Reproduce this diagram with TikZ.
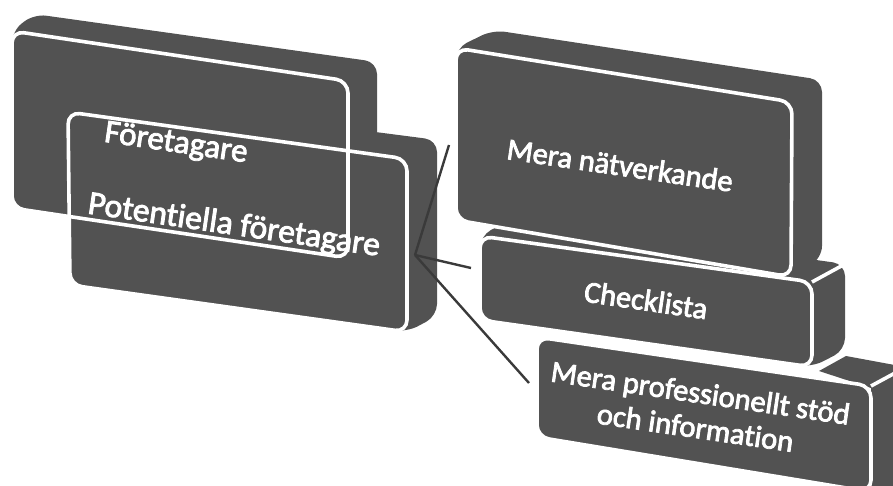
\documentclass[tikz,border=0pt]{standalone}
\usepackage{fontspec}
\setmainfont{Carlito}[Ligatures=NoCommon, FakeBold=2.6]
\definecolor{boxgray}{RGB}{82,82,82}
\definecolor{linegray}{RGB}{58,58,58}
\begin{document}
\begin{tikzpicture}[x=1pt,y=-1pt,
  face/.style={fill=boxgray, rounded corners=12pt},
  rim/.style={draw=white, line width=3.6pt, rounded corners=12pt},
  seam/.style={draw=white, line width=3.6pt},
  link/.style={draw=linegray, line width=2.4pt},
  lbl/.style={text=white, inner sep=0pt, rotate=-8.3, align=center}]
\useasboundingbox (0,0) rectangle (893,485);
% ---------- corner coordinates ----------
% box A (Företagare)
\coordinate (A1) at (12,31);  \coordinate (A2) at (348,81);
\coordinate (A3) at (348,258); \coordinate (A4) at (12,208);
\coordinate (Ab1) at (34,14); \coordinate (Ab2) at (377,62); \coordinate (Ab3) at (377,240);
% box B (Potentiella företagare)
\coordinate (B1) at (68,112); \coordinate (B2) at (407,159);
\coordinate (B3) at (407,332); \coordinate (B4) at (70,285);
\coordinate (Bb1) at (90,95); \coordinate (Bb2) at (437,140); \coordinate (Bb3) at (437,316);
% box C (Mera nätverkande)
\coordinate (C1) at (456,48); \coordinate (C2) at (792,102);
\coordinate (C3) at (791,277); \coordinate (C4) at (456,220);
\coordinate (Cb1) at (493,30); \coordinate (Cb2) at (822,80); \coordinate (Cb3) at (822,258);
% box D (Checklista)
\coordinate (D1) at (480,236); \coordinate (D2) at (812,282);
\coordinate (D3) at (812,367); \coordinate (D4) at (480,320);
\coordinate (Db1) at (513,218); \coordinate (Db2) at (845,264); \coordinate (Db3) at (845,350);
% box E (Mera professionellt stöd)
\coordinate (E1) at (537,337); \coordinate (E2) at (871,386);
\coordinate (E3) at (871,492); \coordinate (E4) at (537,437);
% ---------- extrusions ----------
\fill[face] (A1) -- (Ab1) -- (Ab2) -- (Ab3) -- (A3) -- (A4) -- cycle;
\fill[face] (B1) -- (Bb1) -- (Bb2) -- (Bb3) -- (B3) -- (B4) -- cycle;
\fill[face] (C1) -- (Cb1) -- (Cb2) -- (Cb3) -- (C3) -- (C4) -- cycle;
\fill[face] (D1) -- (Db1) -- (Db2) -- (Db3) -- (D3) -- (D4) -- cycle;
\fill[boxgray] (819,371) -- (846,356) -- (900,366) -- (900,490) -- (871,490) -- (871,388) -- cycle;
% ---------- front faces ----------
\fill[face] (A1) -- (A2) -- (A3) -- (A4) -- cycle;
\fill[face] (B1) -- (B2) -- (B3) -- (B4) -- cycle;
\fill[face] (C1) -- (C2) -- (C3) -- (C4) -- cycle;
\fill[face] (D1) -- (D2) -- (D3) -- (D4) -- cycle;
\fill[face] (E1) -- (E2) -- (E3) -- (E4) -- cycle;
% ---------- white rims ----------
\draw[rim] (A1) -- (A2) -- (A3) -- (A4) -- cycle;
\draw[rim] (B1) -- (B2) -- (B3) -- (B4) -- cycle;
\draw[rim] (C1) -- (C2) -- (C3) -- (C4) -- cycle;
\draw[rim] (D1) -- (D2) -- (D3) -- (D4) -- cycle;
\draw[rim] (E1) -- (E2) -- (E3) -- (E4) -- cycle;
\draw[seam] (D2) -- (Db2);
\draw[seam] (E2) -- ++(24,-13);
% ---------- connectors ----------
\coordinate (hub) at (415,255);
\coordinate (toC) at (449,145);
\coordinate (toD) at (471,268);
\coordinate (toE) at (529,383);
\draw[link] (hub) -- (toC);
\draw[link] (hub) -- (toD);
\draw[link] (hub) -- (toE);
% ---------- labels ----------
\node[lbl, font=\fontsize{33}{36}\selectfont] (tA) at (176,144) {Företagare};
\node[lbl, font=\fontsize{33.5}{36}\selectfont] (tB) at (234,226) {Potentiella företagare};
\node[lbl, font=\fontsize{30.5}{34}\selectfont] (tC) at (620,165) {Mera nätverkande};
\node[lbl, font=\fontsize{30.5}{34}\selectfont] (tD) at (646,300) {Checklista};
\node[lbl, font=\fontsize{30.5}{35}\selectfont] (tE) at (698,410) {Mera professionellt stöd\\och information};
\end{tikzpicture}
\end{document}
